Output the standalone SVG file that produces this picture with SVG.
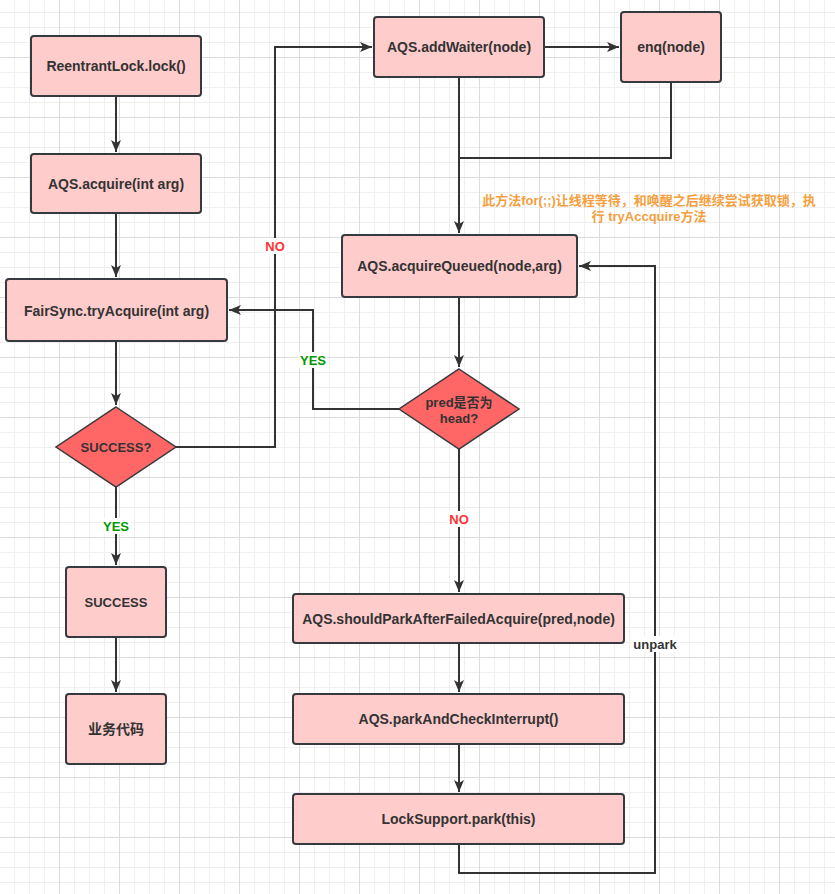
<svg xmlns="http://www.w3.org/2000/svg" width="835" height="894" viewBox="0 0 835 894">
<defs>
<pattern id="grid" patternUnits="userSpaceOnUse" x="0" y="-2" width="60" height="60">
<path d="M14.5,0V60M29.5,0V60M44.5,0V60M0,14.5H60M0,29.5H60M0,44.5H60" stroke="#efefef" stroke-width="1" fill="none"/>
<path d="M59.5,0V60M0,59.5H60" stroke="#dcdcdc" stroke-width="1" fill="none"/>
</pattern>
<marker id="arr" markerUnits="userSpaceOnUse" markerWidth="14" markerHeight="12" refX="12" refY="5" orient="auto" viewBox="0 0 14 12">
<path d="M0,0 L12,5 L0,10 L3,5 Z" fill="#333333"/>
</marker>
<style>
.box{fill:#FFCCCC;stroke:#36393d;stroke-width:2}
.dia{fill:#FF6666;stroke:#36393d;stroke-width:1.5}
.t{font-family:"Liberation Sans","Noto Sans CJK SC",sans-serif;font-weight:bold;font-size:14px;fill:#333333;text-anchor:middle;dominant-baseline:central}
.t13{font-size:13px}
.ln{fill:none;stroke:#333333;stroke-width:2}
.lbl{font-family:"Liberation Sans","Noto Sans CJK SC",sans-serif;font-weight:bold;font-size:13px;text-anchor:middle;dominant-baseline:central}
.no{fill:#FF3333}
.yes{fill:#009900}
.dark{fill:#333333}
.note{font-family:"Liberation Sans","Noto Sans CJK SC",sans-serif;font-weight:bold;font-size:13px;fill:#F5A040;text-anchor:middle}
</style>
</defs>
<rect width="835" height="894" fill="#ffffff"/>
<rect width="835" height="894" fill="url(#grid)"/>

<g id="connectors">
<path class="ln" d="M116,96V152" marker-end="url(#arr)"/>
<path class="ln" d="M116,213V277" marker-end="url(#arr)"/>
<path class="ln" d="M116,341V405" marker-end="url(#arr)"/>
<path class="ln" d="M116,487V565" marker-end="url(#arr)"/>
<path class="ln" d="M116,637V692" marker-end="url(#arr)"/>
<path class="ln" d="M176,447H275V47H372" marker-end="url(#arr)"/>
<path class="ln" d="M544,47H619" marker-end="url(#arr)"/>
<path class="ln" d="M459,77V158H671V82"/>
<path class="ln" d="M459,158V233" marker-end="url(#arr)"/>
<path class="ln" d="M459,297V367" marker-end="url(#arr)"/>
<path class="ln" d="M399,409H313V310H229" marker-end="url(#arr)"/>
<path class="ln" d="M459,449V592" marker-end="url(#arr)"/>
<path class="ln" d="M459,643V692" marker-end="url(#arr)"/>
<path class="ln" d="M459,744V792" marker-end="url(#arr)"/>
<path class="ln" d="M459,844V873H655V266H579" marker-end="url(#arr)"/>
<rect x="101" y="518" width="30" height="16" fill="#ffffff"/>
<text class="lbl yes" x="116" y="526">YES</text>
<rect x="263" y="238" width="24" height="16" fill="#ffffff"/>
<text class="lbl no" x="275" y="246">NO</text>
<rect x="298" y="352" width="30" height="16" fill="#ffffff"/>
<text class="lbl yes" x="313" y="360">YES</text>
<rect x="447" y="511" width="24" height="16" fill="#ffffff"/>
<text class="lbl no" x="459" y="519">NO</text>
<rect x="632" y="636" width="46" height="16" fill="#ffffff"/>
<text class="lbl dark" x="655" y="644">unpark</text>
</g>

<g id="n1"><rect class="box" x="31" y="36" width="170" height="60" rx="3"/><text class="t" x="116" y="66">ReentrantLock.lock()</text></g>
<g id="n2"><rect class="box" x="31" y="154" width="170" height="59" rx="3"/><text class="t" x="116" y="184">AQS.acquire(int arg)</text></g>
<g id="n3"><rect class="box" x="6" y="279" width="221" height="62" rx="3"/><text class="t" x="116.5" y="311">FairSync.tryAcquire(int arg)</text></g>
<g id="n4"><polygon class="dia" points="116,407 176,447 116,487 56,447"/><text class="t t13" x="116" y="447">SUCCESS?</text></g>
<g id="n5"><rect class="box" x="66" y="567" width="100" height="70" rx="3"/><text class="t t13" x="116" y="602">SUCCESS</text></g>
<g id="n6"><rect class="box" x="66" y="694" width="100" height="70" rx="3"/><text class="t" x="116" y="729">业务代码</text></g>
<g id="n7"><rect class="box" x="374" y="17" width="170" height="60" rx="3"/><text class="t" x="459" y="47">AQS.addWaiter(node)</text></g>
<g id="n8"><rect class="box" x="621" y="12" width="100" height="70" rx="3"/><text class="t" x="671" y="47">enq(node)</text></g>
<g id="n9"><rect class="box" x="342" y="235" width="235" height="62" rx="3"/><text class="t" x="459.5" y="266">AQS.acquireQueued(node,arg)</text></g>
<g id="n10"><polygon class="dia" points="459,369 519,409 459,449 399,409"/><text class="t t13" x="459" y="402">pred是否为</text><text class="t t13" x="459" y="418">head?</text></g>
<g id="n11"><rect class="box" x="293" y="594" width="331" height="49" rx="3"/><text class="t" x="458.5" y="619">AQS.shouldParkAfterFailedAcquire(pred,node)</text></g>
<g id="n12"><rect class="box" x="293" y="694" width="331" height="50" rx="3"/><text class="t" x="458.5" y="719">AQS.parkAndCheckInterrupt()</text></g>
<g id="n13"><rect class="box" x="293" y="794" width="331" height="50" rx="3"/><text class="t" x="458.5" y="819">LockSupport.park(this)</text></g>

<g id="note">
<text class="note" x="649" y="205">此方法for(;;)让线程等待，和唤醒之后继续尝试获取锁，执</text>
<text class="note" x="649" y="221">行 tryAccquire方法</text>
</g>
</svg>
